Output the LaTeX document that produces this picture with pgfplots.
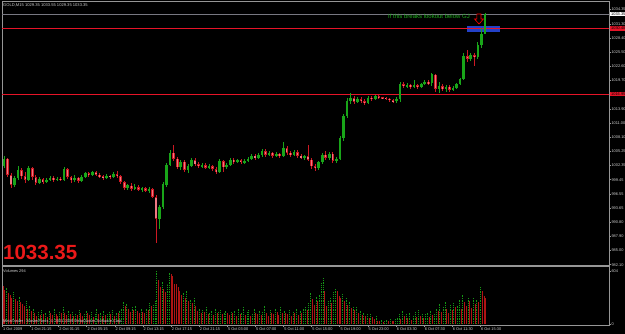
\documentclass[border=0pt]{standalone}
\usepackage{fontspec}
\setmainfont{Liberation Sans}
\usepackage{pgfplots}
\pgfplotsset{compat=1.18}
\usepackage{pgfplotstable}
\definecolor{bull}{RGB}{25,165,25}
\definecolor{bear}{RGB}{205,25,35}
\definecolor{bearbody}{RGB}{240,120,130}
\definecolor{vgreen}{RGB}{20,150,20}
\definecolor{vred}{RGB}{175,20,20}
\definecolor{framec}{RGB}{150,150,150}
\definecolor{lbl}{RGB}{205,205,205}
\definecolor{lvl}{RGB}{230,20,40}
\definecolor{boxblue}{RGB}{35,65,200}
\definecolor{txtgreen}{RGB}{30,170,30}
\definecolor{bigred}{RGB}{235,25,25}
\definecolor{bidgray}{RGB}{120,120,130}

\pgfplotstableread{
o h l c
1002.3 1004.3 1001.8 1003.8
1003.8 1004.0 1000.0 1000.5
1000.5 1000.8 997.8 998.4
998.4 1000.3 997.9 999.8
999.8 1002.2 999.5 1001.5
1001.5 1001.9 999.6 1000.2
1000.2 1001.0 998.9 999.4
999.4 1002.3 999.2 1001.8
1001.8 1002.0 999.5 1000.0
1000.0 1000.4 998.5 998.9
998.9 1000.1 998.6 999.6
999.6 999.9 998.7 999.0
999.0 999.8 998.8 999.5
999.5 1000.3 999.2 999.9
999.9 1000.2 999.1 999.4
999.4 1000.0 999.2 999.7
999.7 1000.0 999.2 999.5
999.5 1002.0 999.3 1001.7
1001.7 1001.9 999.7 1000.0
1000.0 1000.3 998.9 999.4
999.4 1000.4 999.0 999.9
999.9 1000.1 998.8 999.2
999.2 1000.4 999.0 1000.0
1000.0 1001.1 999.8 1000.8
1000.8 1001.0 1000.1 1000.4
1000.4 1001.3 1000.2 1001.0
1001.0 1001.2 1000.2 1000.5
1000.5 1000.8 999.9 1000.2
1000.2 1000.5 999.5 999.8
999.8 1000.6 999.6 1000.3
1000.3 1000.5 999.7 1000.0
1000.0 1001.0 999.8 1000.6
1000.6 1001.2 999.9 1000.2
1000.2 1000.4 998.7 999.0
999.0 999.2 997.4 997.8
997.8 998.6 997.3 998.3
998.3 998.8 997.2 997.6
997.6 998.6 997.3 998.0
998.0 998.3 997.1 997.4
997.4 998.1 997.0 997.8
997.8 998.0 996.9 997.2
997.2 998.0 996.8 997.6
997.6 997.8 995.8 996.0
996.0 996.3 986.5 991.5
991.5 994.3 989.5 994.0
994.0 999.0 993.5 998.5
998.5 1003.0 998.0 1002.5
1002.5 1005.5 1002.2 1005.0
1005.0 1006.6 1003.3 1003.8
1003.8 1004.2 1001.6 1002.0
1002.0 1003.6 1001.5 1003.2
1003.2 1003.5 1001.0 1001.5
1001.5 1002.7 1000.9 1002.3
1002.3 1003.9 1002.0 1003.5
1003.5 1003.9 1002.2 1002.6
1002.6 1003.0 1001.8 1002.2
1002.2 1002.9 1001.9 1002.5
1002.5 1002.8 1001.6 1001.9
1001.9 1002.6 1001.6 1002.3
1002.3 1002.5 1001.3 1001.7
1001.7 1002.0 1000.7 1001.0
1001.0 1003.7 1000.8 1003.3
1003.3 1003.6 1001.0 1002.0
1002.0 1002.9 1001.6 1002.5
1002.5 1004.0 1002.3 1003.6
1003.6 1003.9 1002.8 1003.2
1003.2 1003.8 1002.9 1003.5
1003.5 1003.8 1002.6 1003.0
1003.0 1003.7 1002.7 1003.4
1003.4 1004.2 1003.1 1003.8
1003.8 1004.7 1003.5 1004.4
1004.4 1004.8 1003.6 1004.0
1004.0 1005.0 1003.8 1004.6
1004.6 1005.8 1004.2 1005.4
1005.4 1005.7 1004.2 1004.6
1004.6 1005.3 1004.3 1005.0
1005.0 1005.2 1004.0 1004.4
1004.4 1005.1 1004.1 1004.8
1004.8 1005.0 1003.9 1004.3
1004.3 1007.2 1004.1 1006.0
1006.0 1006.3 1004.6 1005.0
1005.0 1005.3 1004.2 1004.6
1004.6 1005.5 1004.4 1005.2
1005.2 1005.5 1004.0 1004.4
1004.4 1004.7 1003.7 1004.0
1004.0 1004.6 1003.6 1004.3
1004.3 1006.6 1003.3 1003.6
1003.6 1004.0 1001.6 1002.2
1002.2 1002.6 1001.3 1001.8
1001.8 1003.4 1001.5 1003.0
1003.0 1005.0 1002.6 1004.6
1004.6 1005.3 1003.5 1004.0
1004.0 1005.2 1003.6 1004.8
1004.8 1005.1 1002.9 1003.3
1003.3 1004.1 1002.8 1003.8
1003.8 1008.4 1003.6 1008.0
1008.0 1013.0 1007.5 1012.5
1012.5 1016.2 1012.0 1015.5
1015.5 1017.2 1015.0 1016.2
1016.2 1016.6 1015.0 1015.4
1015.4 1016.4 1015.1 1016.0
1016.0 1016.5 1015.2 1015.5
1015.5 1015.9 1014.8 1015.2
1015.2 1016.5 1015.0 1016.2
1016.2 1016.6 1015.6 1016.0
1016.0 1016.9 1015.8 1016.6
1016.6 1016.8 1016.0 1016.3
1016.3 1016.5 1015.9 1016.2
1016.2 1016.4 1015.7 1016.0
1016.0 1016.2 1015.4 1015.8
1015.8 1016.0 1015.1 1015.5
1015.5 1016.3 1015.2 1016.0
1016.0 1019.4 1015.4 1019.0
1019.0 1019.5 1018.2 1018.6
1018.6 1019.3 1018.3 1018.9
1018.9 1019.1 1018.0 1018.4
1018.4 1019.9 1018.2 1018.8
1018.8 1019.0 1018.1 1018.5
1018.5 1019.3 1018.3 1019.0
1019.0 1019.8 1018.8 1019.5
1019.5 1019.8 1018.9 1019.2
1019.2 1021.3 1018.7 1021.0
1021.0 1021.1 1017.5 1018.0
1018.0 1019.4 1017.2 1018.6
1018.6 1019.0 1017.6 1018.0
1018.0 1018.9 1017.5 1018.5
1018.5 1018.8 1017.4 1017.9
1017.9 1018.6 1017.6 1018.3
1018.3 1019.3 1018.0 1019.0
1019.0 1020.3 1018.8 1020.0
1020.0 1025.4 1019.8 1024.8
1024.8 1026.0 1023.6 1024.2
1024.2 1025.5 1023.8 1025.0
1025.0 1025.4 1022.8 1024.5
1024.5 1027.6 1024.2 1027.0
1027.0 1030.5 1026.5 1029.35
1029.35 1033.55 1029.35 1033.35
}\candles

\pgfplotstableread{
v g
430 0
390 0
410 1
350 0
330 0
300 0
360 1
280 0
260 0
310 1
250 0
230 0
200 0
260 1
170 0
210 1
150 0
180 1
120 0
90 0
140 1
100 0
160 1
110 0
130 1
80 0
150 1
120 0
100 0
170 1
110 0
90 0
140 1
120 0
200 1
130 0
100 0
150 1
110 0
140 1
90 0
120 1
100 0
160 1
130 0
90 0
110 1
150 1
120 0
100 0
140 1
80 0
120 1
170 1
110 0
130 1
90 0
150 1
100 0
120 1
140 1
110 0
160 1
90 0
130 1
120 0
150 1
180 1
250 1
200 0
230 1
170 0
140 0
190 1
160 0
210 1
150 0
130 0
180 1
140 0
120 0
170 1
160 0
240 1
200 0
220 1
260 1
600 1
500 0
420 0
480 1
400 0
360 0
450 1
580 1
570 0
540 0
460 0
450 0
420 0
380 0
330 0
350 1
300 0
380 1
260 0
280 1
240 0
300 1
200 0
150 0
180 1
120 0
160 1
140 0
190 1
110 0
130 1
150 1
100 0
170 1
120 0
140 1
160 1
110 0
130 1
150 1
120 0
100 0
140 1
120 0
150 1
90 0
170 1
110 0
130 1
200 1
100 0
140 1
160 1
90 0
120 1
180 1
130 0
110 0
150 1
100 0
140 1
210 1
120 0
90 0
160 1
130 0
110 0
170 1
140 0
100 0
190 1
120 0
150 1
130 0
110 0
160 1
90 0
140 1
120 0
180 1
100 0
150 1
130 0
170 1
200 1
160 0
240 1
350 1
280 0
220 0
310 1
260 0
330 1
470 1
520 1
380 0
200 0
260 1
300 1
240 0
360 1
400 1
380 0
320 0
290 0
340 1
260 0
300 1
220 0
250 1
180 0
200 1
160 0
190 1
120 0
150 1
100 0
130 1
90 0
110 1
70 0
120 1
80 0
60 0
90 1
40 0
30 0
50 1
25 0
35 1
45 1
30 0
55 1
40 0
35 0
60 1
80 1
120 1
60 0
150 1
90 0
110 1
70 0
130 1
50 0
100 1
140 1
80 0
160 1
90 0
120 1
70 0
110 1
130 1
80 0
150 1
100 0
120 1
180 1
150 0
230 1
140 0
200 1
250 1
170 0
130 0
220 1
160 0
240 1
190 0
210 1
280 1
170 0
330 1
250 0
200 0
300 1
260 0
180 0
290 1
230 0
270 1
250 0
420 1
380 0
320 0
294 0
}\vols

\begin{document}
\begin{tikzpicture}[x=1pt,y=1pt]
\useasboundingbox (0,0) rectangle (625,334);
\fill[black] (0,0) rectangle (625,334);

\begin{axis}[
  at={(2pt,68.8pt)}, anchor=south west, scale only axis,
  width=607pt, height=263.7pt,
  xmin=-0.62, xmax=342.7, ymin=982.0, ymax=1035.92,
  axis line style={framec, line width=0.6pt},
  xtick=\empty,
  ytick={982.10,985.00,987.89,990.79,993.68,996.58,999.48,1002.37,1005.27,1008.16,1011.06,1013.96,1019.75,1022.64,1025.54,1028.44,1031.33,1034.33},
  yticklabels={982.10,985.00,987.90,990.80,993.65,996.55,999.45,1002.35,1005.25,1008.10,1011.00,1013.90,1019.70,1022.60,1025.50,1028.40,1031.30,1034.35},
  ytick pos=right, yticklabel pos=right,
  tick align=outside, major tick length=1.5pt,
  every tick/.style={framec, line width=0.5pt},
  yticklabel style={font=\fontsize{3.9}{4.5}\selectfont, text=lbl, inner sep=0.8pt},
  /pgf/number format/assume math mode=true,
  clip mode=individual,
]
% blue box
\addplot[fill=boxblue, draw=none, forget plot] coordinates {(262.4,1029.69) (281.0,1029.69) (281.0,1030.91) (262.4,1030.91)} -- cycle;
% bid line and levels
\addplot[bidgray, line width=0.6pt, forget plot] coordinates {(-1,1033.35) (344,1033.35)};
\addplot[lvl, line width=1.3pt, forget plot] coordinates {(-1,1030.40) (344,1030.40)};
\addplot[lvl, line width=1.3pt, forget plot] coordinates {(-1,1016.95) (344,1016.95)};
% bull wicks
\addplot[draw=none, mark=none, forget plot,
  restrict expr to domain={\thisrow{c}-\thisrow{o}}{0:100},
  error bars/.cd, y dir=both, y explicit, error mark=none,
  error bar style={draw=bull, line width=0.7pt, solid}]
  table[x expr=2*\coordindex+0.5, y expr={(\thisrow{h}+\thisrow{l})/2}, y error expr={(\thisrow{h}-\thisrow{l})/2}] {\candles};
% bull bodies
\addplot[draw=none, mark=none, forget plot,
  restrict expr to domain={\thisrow{c}-\thisrow{o}}{0:100},
  error bars/.cd, y dir=both, y explicit, error mark=none,
  error bar style={draw=bull, line width=2.6pt, solid}]
  table[x expr=2*\coordindex+0.5, y expr={(\thisrow{o}+\thisrow{c})/2}, y error expr={max(abs(\thisrow{c}-\thisrow{o})/2,0.12)}] {\candles};
% bear wicks
\addplot[draw=none, mark=none, forget plot,
  restrict expr to domain={\thisrow{c}-\thisrow{o}}{-100:-0.001},
  error bars/.cd, y dir=both, y explicit, error mark=none,
  error bar style={draw=bear, line width=0.7pt, solid}]
  table[x expr=2*\coordindex+0.5, y expr={(\thisrow{h}+\thisrow{l})/2}, y error expr={(\thisrow{h}-\thisrow{l})/2}] {\candles};
% bear bodies
\addplot[draw=none, mark=none, forget plot,
  restrict expr to domain={\thisrow{c}-\thisrow{o}}{-100:-0.001},
  error bars/.cd, y dir=both, y explicit, error mark=none,
  error bar style={draw=bear, line width=2.6pt, solid}]
  table[x expr=2*\coordindex+0.5, y expr={(\thisrow{o}+\thisrow{c})/2}, y error expr={max(abs(\thisrow{c}-\thisrow{o})/2,0.12)}] {\candles};
\addplot[draw=none, mark=none, forget plot,
  restrict expr to domain={\thisrow{c}-\thisrow{o}}{-100:-0.001},
  error bars/.cd, y dir=both, y explicit, error mark=none,
  error bar style={draw=bearbody, line width=1.2pt, solid}]
  table[x expr=2*\coordindex+0.5, y expr={(\thisrow{o}+\thisrow{c})/2}, y error expr={max(abs(\thisrow{c}-\thisrow{o})/2-0.15,0.01)}] {\candles};
% arrow
\addplot[draw=red, fill=black, line width=0.6pt, forget plot] coordinates {(268.0,1033.37) (270.3,1033.37) (270.3,1032.35) (271.7,1032.35) (269.2,1031.32) (266.6,1032.35) (268.0,1032.35)} -- cycle;
\node[anchor=east, text=txtgreen, font=\fontsize{6}{7}\selectfont, inner sep=0] at (axis cs:264.1,1032.96) {If this breaks lookout below GJ};
% right highlighted labels
\node[anchor=west, fill=white, text=black, font=\fontsize{3.9}{4.5}\selectfont, inner sep=0.8pt] at (axis cs:343.4,1033.35) {1033.35};
\node[anchor=west, fill=lvl, text=black, font=\fontsize{3.9}{4.5}\selectfont, inner sep=0.8pt] at (axis cs:343.4,1030.40) {1030.40};
\node[anchor=west, fill=lvl, text=black, font=\fontsize{3.9}{4.5}\selectfont, inner sep=0.8pt] at (axis cs:343.4,1016.95) {1016.95};
\end{axis}

\begin{axis}[
  at={(2pt,8.3pt)}, anchor=south west, scale only axis,
  width=607pt, height=58.9pt,
  xmin=-0.62, xmax=342.7, ymin=-19, ymax=650,
  axis line style={framec, line width=0.6pt},
  ytick={0,604}, ytick pos=right, yticklabel pos=right,
  xtick={-0.4,15.5,31.4,47.3,63.2,79.1,95.0,110.9,126.8,142.7,158.6,174.5,190.4,206.3,222.2,238.1,254.0,269.9},
  xticklabels={1 Oct 2009,1 Oct 21:15,2 Oct 01:15,2 Oct 05:15,2 Oct 09:15,2 Oct 13:15,2 Oct 17:15,2 Oct 21:15,5 Oct 03:00,5 Oct 07:00,5 Oct 11:00,5 Oct 15:00,5 Oct 19:00,5 Oct 23:00,6 Oct 03:30,6 Oct 07:30,6 Oct 11:30,6 Oct 15:30},
  xtick pos=bottom,
  tick align=outside, major tick length=1.5pt,
  every tick/.style={framec, line width=0.5pt},
  ticklabel style={font=\fontsize{3.9}{4.5}\selectfont, text=lbl},
  xticklabel style={anchor=north west, inner sep=0.6pt},
  yticklabel style={inner sep=0.8pt},
  /pgf/number format/assume math mode=true,
  clip mode=individual,
]
\addplot[ycomb, vgreen, line width=1pt, dash pattern=on 1pt off 0.8pt, mark=none,
  restrict expr to domain={\thisrow{g}}{0.5:1.5}] table[x expr=\coordindex, y=v] {\vols};
\addplot[ycomb, vred, line width=1pt, mark=none,
  restrict expr to domain={\thisrow{g}}{-0.5:0.5}] table[x expr=\coordindex, y=v] {\vols};
\end{axis}

\node[anchor=west, text=lbl, font=\fontsize{4.1}{5}\selectfont, inner sep=0] at (3,329) {GOLD,M15 1029.35 1033.55 1029.35 1033.35};
\node[anchor=base west, text=bigred, font=\fontsize{20.5}{22}\selectfont\bfseries, inner sep=0] at (3,74.5) {1033.35};
\node[anchor=west, text=lbl, font=\fontsize{3.9}{4.5}\selectfont, inner sep=0] at (3,63) {Volumes 294};
\node[anchor=base west, text=lbl, font=\fontsize{3.9}{4.5}\selectfont, inner sep=0] at (3,11) {MetaTrader - MasterForex, © 2001-2009 MetaQuotes Software Corp.};
\end{tikzpicture}
\end{document}
